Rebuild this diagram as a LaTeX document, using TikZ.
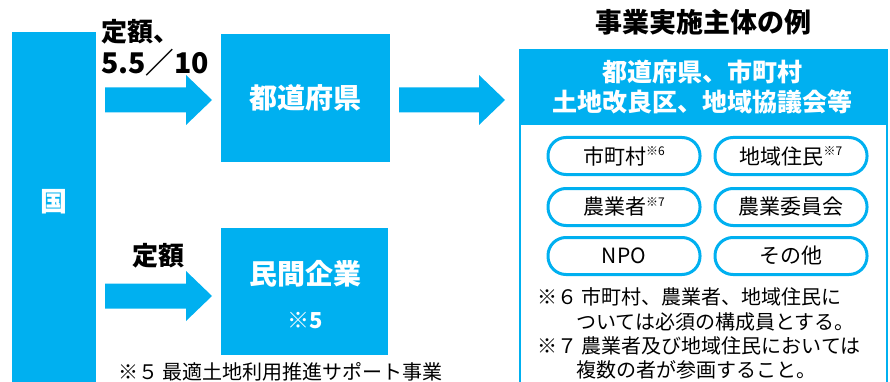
\documentclass[tikz,border=0pt]{standalone}
\usepackage{fontspec}
\setmainfont{Noto Sans CJK JP}
\usetikzlibrary{calc}

\definecolor{kblue}{RGB}{0,176,240}
\newcommand{\fs}[1]{\fontsize{#1}{#1}\selectfont}
\newcommand{\kome}[1]{\raisebox{0.4em}{\fs{12}#1}}

\begin{document}
\begin{tikzpicture}[x=1pt,y=-1pt,
    bluebox/.style={fill=kblue, text=white, inner sep=0, font=\bfseries\fs{28}},
    lbl/.style={inner sep=0, font=\bfseries\fontsize{26}{32}\selectfont},
    pill/.style={draw=kblue, line width=3pt, rounded corners=18pt, fill=white,
        minimum width=152pt, minimum height=37pt, inner sep=0, font=\fs{21}},
    note/.style={anchor=west, inner sep=0, font=\fs{20}}]

    \useasboundingbox (0,0) rectangle (890,382);
    \clip (0,0) rectangle (890,382);

    % left part
    \node[bluebox, minimum width=84pt, minimum height=350pt] (kuni) at (54,207) {};
    \node[inner sep=0, text=white, font=\bfseries\fs{27}] (kunitxt) at (54,202) {国};
    \node[bluebox, minimum width=169pt, minimum height=128pt] (pref) at (305.5,98) {都道府県};
    \node[bluebox, minimum width=167pt, minimum height=127pt] (corp) at (304.5,291.5) {};
    \node[inner sep=0, text=white, font=\bfseries\fs{28}] (corptxt) at (305,273.5) {民間企業};
    \node[inner sep=0, text=white, font=\bfseries\fs{22}] (corpnote) at (305,320.5) {※5};

    \node[lbl, anchor=west, align=left] (rate) at (101,48) {定額、\\{\fontsize{28.5}{32}\selectfont 5.5／10}};
    \node[lbl] (fixed) at (158,256) {定額};

    \node[note] (n5) at (118,372) {※５ 最適土地利用推進サポート事業};

    % block arrows
    \coordinate (a1s) at (105,100);
    \coordinate (a1e) at (212,100);
    \coordinate (a2s) at (105,296);
    \coordinate (a2e) at (212,296);
    \coordinate (a3s) at (399,100);
    \coordinate (a3e) at (505,100);

    \foreach \s/\e in {a1s/a1e, a2s/a2e, a3s/a3e} {
        \fill[kblue]
            ($(\s)+(0,-12.5)$)
            -- ($(\e)+(-26,-12.5)$)
            -- ($(\e)+(-26,-25)$)
            -- (\e)
            -- ($(\e)+(-26,25)$)
            -- ($(\e)+(-26,12.5)$)
            -- ($(\s)+(0,12.5)$)
            -- cycle;
    }

    % right part
    \node[inner sep=0, font=\bfseries\fs{27}] (title) at (703,22.5) {事業実施主体の例};
    \node[draw=kblue, line width=1.5pt, anchor=north west,
        minimum width=367pt, minimum height=351pt] (body) at (519,49) {};
    \node[fill=kblue, text=white, anchor=north west, inner sep=0, align=center,
        minimum width=367pt, minimum height=76pt,
        font=\bfseries\fontsize{25}{30}\selectfont] (head) at (519,49) {都道府県、市町村\\土地改良区、地域協議会等};

    \node[pill] (city) at (624,156) {市町村\kome{※6}};
    \node[pill] (resid) at (791,156) {地域住民\kome{※7}};
    \node[pill] (farmer) at (624,207) {農業者\kome{※7}};
    \node[pill] (board) at (791,207) {農業委員会};
    \node[pill] (npo) at (624,256) {NPO};
    \node[pill] (other) at (791,256) {その他};

    \node[note] (n6a) at (537,297) {※６ 市町村、農業者、地域住民に};
    \node[note] (n6b) at (576,322) {ついては必須の構成員とする。};
    \node[note] (n7a) at (537,346) {※７ 農業者及び地域住民においては};
    \node[note] (n7b) at (576,370) {複数の者が参画すること。};

\end{tikzpicture}
\end{document}
